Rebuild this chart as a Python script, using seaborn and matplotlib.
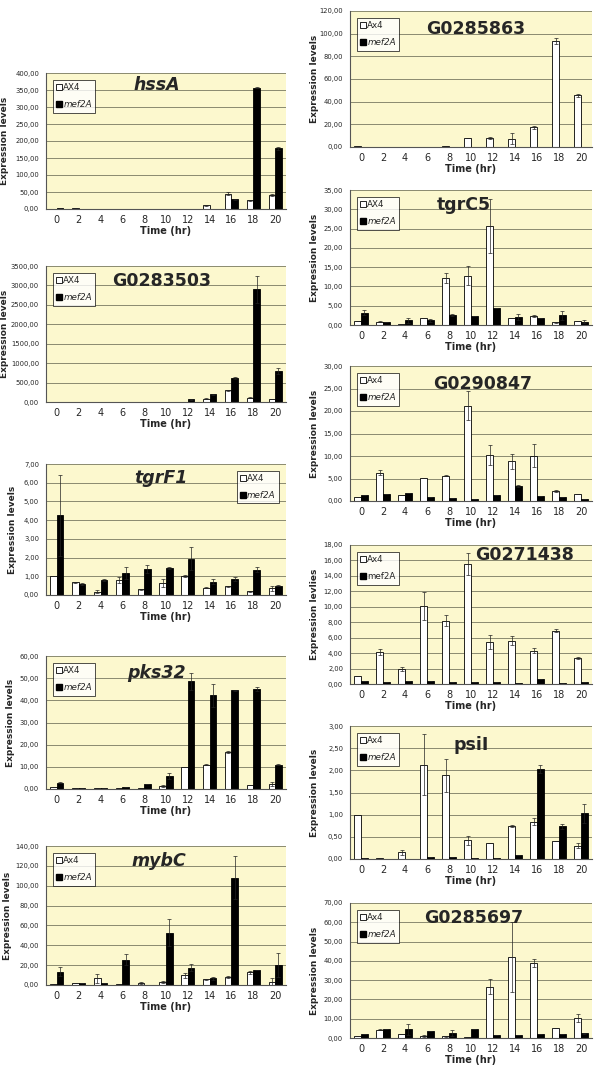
#! /usr/bin/env python3

import numpy as np
import pandas as pd
import matplotlib
matplotlib.use('Agg')
import matplotlib.pyplot as plt
from matplotlib.lines import Line2D
from matplotlib.ticker import FuncFormatter, MultipleLocator
import seaborn as sns

TIMES = ['0', '2', '4', '6', '8', '10', '12', '14', '16', '18', '20']

# left column
hssA_ax4 = [1, 2.5, 0.8, 0.5, 0.5, 0.5, 1, 10.5, 45, 25.5, 40]
hssA_ax4_err = [0, 0.5, 0, 0, 0, 0, 0, 1.5, 5, 1.5, 3]
hssA_mef = [3, 1, 0.5, 0.3, 0.3, 0.3, 1, 1, 28.5, 357, 178]
hssA_mef_err = [0.5, 0, 0, 0, 0, 0, 0, 0, 2, 2, 3]

g503_ax4 = [1, 1, 1, 1, 1, 1, 10, 85, 300, 110, 77]
g503_ax4_err = [0, 0, 0, 0, 0, 0, 0, 10, 15, 10, 10]
g503_mef = [2, 2, 2, 2, 2, 2, 69, 197, 617, 2900, 789]
g503_mef_err = [0, 0, 0, 0, 0, 0, 5, 10, 20, 350, 75]

tgrF1_ax4 = [1.0, 0.67, 0.18, 0.8, 0.3, 0.63, 1.0, 0.4, 0.47, 0.2, 0.35]
tgrF1_ax4_err = [0, 0.02, 0.08, 0.15, 0.03, 0.22, 0.05, 0.03, 0.02, 0.02, 0.12]
tgrF1_mef = [4.25, 0.57, 0.82, 1.17, 1.38, 1.42, 1.93, 0.72, 0.85, 1.35, 0.5]
tgrF1_mef_err = [2.15, 0.05, 0.05, 0.3, 0.22, 0.05, 0.62, 0.13, 0.12, 0.13, 0.03]

pks32_ax4 = [1.0, 0.5, 0.3, 0.5, 0.3, 1.3, 9.8, 11.0, 16.8, 1.7, 2.3]
pks32_ax4_err = [0, 0, 0, 0, 0, 0.3, 0, 0.3, 0.4, 0, 1.0]
pks32_mef = [2.8, 0.6, 0.6, 1.1, 2.4, 5.8, 48.5, 42.3, 44.5, 45.2, 11.0]
pks32_mef_err = [0.3, 0, 0, 0, 0, 1.5, 4.0, 5.2, 0.3, 0.8, 0.3]

mybC_ax4 = [1, 2, 7, 1.5, 2.5, 3.5, 10, 6, 8.5, 13, 3.5]
mybC_ax4_err = [0, 0, 4.5, 0, 1, 1, 2.5, 0.5, 1, 1.5, 3.5]
mybC_mef = [13.4, 2, 2, 25.4, 0.5, 52.6, 17.5, 7, 108, 15.5, 20]
mybC_mef_err = [4.3, 0, 0, 5.4, 0, 13.4, 3.5, 1.5, 21.5, 0, 12]

# right column
g863_ax4 = [1.0, 0.3, 0.3, 0.4, 0.5, 8.2, 7.8, 7.5, 17.5, 93.5, 45.6]
g863_ax4_err = [0, 0, 0, 0, 0, 0, 0.8, 5, 1.3, 3, 1.5]
g863_mef = [0.2, 0.2, 0.2, 0.2, 0.2, 0.2, 0.2, 0.2, 0.2, 0.2, 0.2]
g863_mef_err = [0, 0, 0, 0, 0, 0, 0, 0, 0, 0, 0]

tgrC5_ax4 = [1.0, 0.9, 0.3, 1.8, 12.3, 12.8, 25.6, 1.8, 2.4, 0.7, 1.0]
tgrC5_ax4_err = [0, 0.1, 0, 0, 1.3, 2.4, 7.0, 0, 0.2, 0.2, 0]
tgrC5_mef = [3.2, 0.7, 1.2, 1.2, 2.6, 2.4, 4.4, 2.0, 1.8, 2.5, 0.9]
tgrC5_mef_err = [0.7, 0, 0.6, 0.3, 0.2, 0, 0, 0.8, 0, 1.1, 0.3]

g847_ax4 = [1.0, 6.3, 1.3, 5.1, 5.6, 21.2, 10.2, 8.8, 10.1, 2.3, 1.6]
g847_ax4_err = [0, 0.5, 0, 0, 0.1, 3.3, 2.2, 1.7, 2.6, 0.2, 0]
g847_mef = [1.3, 1.6, 1.7, 0.8, 0.6, 0.5, 1.3, 3.3, 1.1, 0.9, 0.5]
g847_mef_err = [0, 0, 0, 0, 0, 0, 0, 0.2, 0, 0, 0]

g438_ax4 = [1.0, 4.15, 1.9, 10.15, 8.2, 15.5, 5.4, 5.6, 4.3, 6.9, 3.4]
g438_ax4_err = [0, 0.35, 0.25, 1.8, 0.7, 1.4, 0.9, 0.6, 0.3, 0.2, 0.1]
g438_mef = [0.45, 0.3, 0.35, 0.45, 0.25, 0.2, 0.2, 0.15, 0.7, 0.15, 0.25]
g438_mef_err = [0, 0, 0, 0, 0, 0, 0, 0, 0, 0, 0]

psiI_ax4 = [1.0, 0.02, 0.15, 2.13, 1.89, 0.42, 0.37, 0.75, 0.84, 0.4, 0.3]
psiI_ax4_err = [0, 0, 0.05, 0.69, 0.37, 0.1, 0, 0.02, 0.08, 0, 0.05]
psiI_mef = [0.02, 0.01, 0.01, 0.05, 0.05, 0.03, 0.03, 0.1, 2.02, 0.74, 1.03]
psiI_mef_err = [0, 0, 0, 0, 0, 0, 0, 0, 0.09, 0.06, 0.22]

g697_ax4 = [1.0, 4.2, 2.0, 1.0, 0.8, 0.4, 26.6, 42.0, 38.9, 5.2, 10.5]
g697_ax4_err = [0, 0.3, 0, 0.5, 0.4, 0, 4.0, 18.0, 2.2, 0, 2.0]
g697_mef = [2.0, 4.5, 4.6, 3.8, 2.8, 4.6, 1.8, 1.3, 2.0, 2.0, 2.5]
g697_mef_err = [0, 0, 2.8, 0, 1.6, 0, 0, 0, 0, 0, 0.3]

BG = '#FCF8CE'
W, H = 600, 1069


def px_rect(x0, x1, y0, y1):
    return [x0 / W, 1 - y1 / H, (x1 - x0) / W, (y1 - y0) / H]


def comma_fmt(v, pos):
    return f'{v:.2f}'.replace('.', ',')


def draw_panel(fig, rect, ax4, ax4_err, mef, mef_err, ymax, ystep, title,
               title_style, title_xy, leg_labels, leg_italic, leg_loc,
               ylabel='Expression levels', ylabel_x=-0.15):
    ax = fig.add_axes(rect)
    df = pd.DataFrame({
        'time': TIMES * 2,
        'value': list(ax4) + list(mef),
        'strain': ['ax4'] * len(TIMES) + ['mef2A'] * len(TIMES),
    })
    sns.barplot(data=df, x='time', y='value', hue='strain',
                palette=['white', 'black'], edgecolor='black', linewidth=0.6,
                width=0.6, gap=0, errorbar=None, legend=False, ax=ax)
    for cont, err in zip(ax.containers, [ax4_err, mef_err]):
        xs = [b.get_x() + b.get_width() / 2 for b in cont]
        ys = [b.get_height() for b in cont]
        ax.errorbar(xs, ys, yerr=err, fmt='none', ecolor='#222222',
                    elinewidth=0.5, capsize=1.2, capthick=0.5)

    ax.set_facecolor(BG)
    ax.set_ylim(0, ymax)
    ax.set_xlim(-0.5, len(TIMES) - 0.5)
    ax.yaxis.set_major_locator(MultipleLocator(ystep))
    ax.yaxis.set_major_formatter(FuncFormatter(comma_fmt))
    ax.grid(axis='y', color='#8a8a70', linewidth=0.7)
    ax.set_axisbelow(True)
    for s in ['top', 'right']:
        ax.spines[s].set_visible(False)
    for s in ['left', 'bottom']:
        ax.spines[s].set_color('#555555')
        ax.spines[s].set_linewidth(0.8)

    ax.set_xticks(np.arange(-0.5, len(TIMES)), minor=True)
    ax.tick_params(axis='x', which='major', length=0, labelsize=7, pad=4)
    ax.tick_params(axis='x', which='minor', length=3, width=0.6,
                   color='#555555')
    ax.tick_params(axis='y', length=3, width=0.6, color='#555555',
                   labelsize=4.9, pad=2)
    ax.set_xlabel('Time (hr)', fontsize=7, fontweight='bold', labelpad=1)
    ax.set_ylabel(ylabel, fontsize=6.5, fontweight='bold')
    ax.yaxis.set_label_coords(ylabel_x, 0.5)

    ax.text(title_xy[0], title_xy[1], title, transform=ax.transAxes,
            ha='center', va='center', fontsize=12.5, fontweight='bold',
            fontstyle=title_style)

    handles = [
        Line2D([], [], marker='s', linestyle='none', markersize=4.5,
               markerfacecolor='white', markeredgecolor='black',
               markeredgewidth=0.6),
        Line2D([], [], marker='s', linestyle='none', markersize=4.5,
               markerfacecolor='black', markeredgecolor='black'),
    ]
    if leg_loc == 'left':
        loc, anchor = 'upper left', (0.03, 0.95)
    else:
        loc, anchor = 'upper right', (0.97, 0.95)
    leg = ax.legend(handles, leg_labels, loc=loc, bbox_to_anchor=anchor,
                    fontsize=6.3, frameon=True, fancybox=False,
                    handlelength=0.6, handletextpad=0.15, labelspacing=0.9,
                    borderpad=0.4, borderaxespad=0)
    leg.get_frame().set_edgecolor('black')
    leg.get_frame().set_linewidth(0.6)
    leg.get_frame().set_facecolor('white')
    if leg_italic:
        leg.get_texts()[1].set_fontstyle('italic')
    return ax


if __name__ == '__main__':
    sns.set_style('white')
    plt.rcParams['font.family'] = ['DejaVu Sans']

    fig = plt.figure(figsize=(6, 10.69), dpi=100)

    lx0, lx1 = 46, 286
    rx0, rx1 = 350, 592
    lyl = -0.155
    ryl = -0.13

    draw_panel(fig, px_rect(lx0, lx1, 73, 209), hssA_ax4, hssA_ax4_err,
               hssA_mef, hssA_mef_err, 400, 50, 'hssA', 'italic',
               (0.46, 0.91), ['AX4', 'mef2A'], True, 'left', ylabel_x=lyl)
    draw_panel(fig, px_rect(lx0, lx1, 266, 402), g503_ax4, g503_ax4_err,
               g503_mef, g503_mef_err, 3500, 500, 'G0283503', 'normal',
               (0.48, 0.89), ['AX4', 'mef2A'], True, 'left', ylabel_x=lyl)
    draw_panel(fig, px_rect(lx0, lx1, 464, 595), tgrF1_ax4, tgrF1_ax4_err,
               tgrF1_mef, tgrF1_mef_err, 7, 1, 'tgrF1', 'italic',
               (0.48, 0.89), ['AX4', 'mef2A'], True, 'right', ylabel_x=-0.12)
    draw_panel(fig, px_rect(lx0, lx1, 656, 789), pks32_ax4, pks32_ax4_err,
               pks32_mef, pks32_mef_err, 60, 10, 'pks32', 'italic',
               (0.46, 0.87), ['AX4', 'mef2A'], True, 'left', ylabel_x=-0.13)
    draw_panel(fig, px_rect(lx0, lx1, 846, 985), mybC_ax4, mybC_ax4_err,
               mybC_mef, mybC_mef_err, 140, 20, 'mybC', 'italic',
               (0.47, 0.89), ['Ax4', 'mef2A'], True, 'left', ylabel_x=-0.14)

    draw_panel(fig, px_rect(rx0, rx1, 11, 147), g863_ax4, g863_ax4_err,
               g863_mef, g863_mef_err, 120, 20, 'G0285863', 'normal',
               (0.52, 0.87), ['Ax4', 'mef2A'], True, 'left', ylabel_x=ryl)
    draw_panel(fig, px_rect(rx0, rx1, 190, 325), tgrC5_ax4, tgrC5_ax4_err,
               tgrC5_mef, tgrC5_mef_err, 35, 5, 'tgrC5', 'normal',
               (0.47, 0.89), ['AX4', 'mef2A'], True, 'left', ylabel_x=ryl)
    draw_panel(fig, px_rect(rx0, rx1, 366, 501), g847_ax4, g847_ax4_err,
               g847_mef, g847_mef_err, 30, 5, 'G0290847', 'normal',
               (0.55, 0.87), ['Ax4', 'mef2A'], True, 'left', ylabel_x=ryl)
    draw_panel(fig, px_rect(rx0, rx1, 545, 684), g438_ax4, g438_ax4_err,
               g438_mef, g438_mef_err, 18, 2, 'G0271438', 'normal',
               (0.72, 0.93), ['Ax4', 'mef2A'], False, 'left',
               ylabel='Expression levlies', ylabel_x=ryl)
    draw_panel(fig, px_rect(rx0, rx1, 726, 859), psiI_ax4, psiI_ax4_err,
               psiI_mef, psiI_mef_err, 3, 0.5, 'psiI', 'normal',
               (0.50, 0.86), ['Ax4', 'mef2A'], True, 'left', ylabel_x=ryl)
    draw_panel(fig, px_rect(rx0, rx1, 903, 1038), g697_ax4, g697_ax4_err,
               g697_mef, g697_mef_err, 70, 10, 'G0285697', 'normal',
               (0.51, 0.89), ['Ax4', 'mef2A'], True, 'left', ylabel_x=ryl)

    fig.savefig('out.png', dpi=100, facecolor='white')
